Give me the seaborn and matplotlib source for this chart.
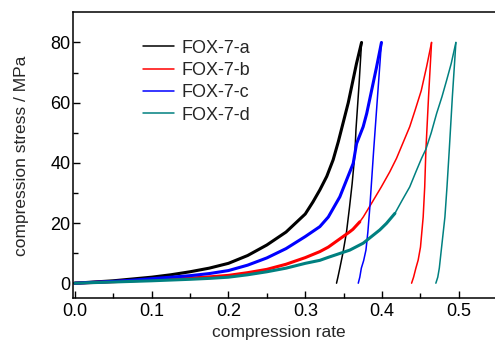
"""Compression stress vs compression rate for four FOX-7 samples."""
import numpy as np
import matplotlib
matplotlib.use('Agg')
import matplotlib.pyplot as plt
import seaborn as sns

# loading branch (noisy, drawn thick up to `thick_end`) and unloading branch
samples = ['FOX-7-a', 'FOX-7-b', 'FOX-7-c', 'FOX-7-d']
colors = ['#000000', '#ff0000', '#0000ff', '#008080']

load_a_x = [0.0, 0.025, 0.05, 0.075, 0.1, 0.125, 0.15, 0.175, 0.2, 0.225, 0.25, 0.275,
            0.3, 0.31, 0.319, 0.328, 0.3363, 0.343, 0.349, 0.356, 0.3667, 0.3733]
load_a_y = [0.0, 0.4, 0.8, 1.4, 2.0, 2.8, 3.8, 5.0, 6.6, 9.2, 12.7, 17.0,
            23.0, 27.0, 31.0, 35.5, 41.0, 47.0, 53.0, 60.0, 73.0, 80.0]
unload_a_x = [0.3407, 0.3425, 0.345, 0.349, 0.3537, 0.3575, 0.361, 0.3646, 0.366, 0.370, 0.3733]
unload_a_y = [0.0, 2.0, 5.0, 10.0, 17.0, 25.0, 33.0, 43.0, 51.0, 66.0, 80.0]

load_b_x = [0.0, 0.025, 0.05, 0.075, 0.1, 0.125, 0.15, 0.175, 0.2, 0.225, 0.25, 0.275,
            0.3, 0.319, 0.33, 0.358, 0.362, 0.371, 0.3755, 0.385, 0.399, 0.41, 0.4188,
            0.436, 0.443, 0.451, 0.458, 0.4644]
load_b_y = [0.0, 0.25, 0.5, 0.8, 1.1, 1.4, 1.7, 2.1, 2.6, 3.5, 4.6, 6.3,
            8.5, 10.5, 12.0, 17.1, 17.9, 20.4, 22.0, 26.0, 32.0, 37.0, 41.5,
            52.0, 57.5, 64.0, 72.0, 80.0]
unload_b_x = [0.4384, 0.441, 0.444, 0.447, 0.450, 0.4535, 0.4555, 0.457, 0.4605, 0.4644]
unload_b_y = [0.0, 2.0, 5.0, 7.7, 12.0, 22.0, 32.0, 44.0, 62.0, 80.0]

load_c_x = [0.0, 0.025, 0.05, 0.075, 0.1, 0.125, 0.15, 0.175, 0.2, 0.225, 0.25, 0.275,
            0.3, 0.319, 0.33, 0.345, 0.3624, 0.3668, 0.3754, 0.38, 0.3928, 0.3992]
load_c_y = [0.0, 0.3, 0.6, 1.0, 1.5, 2.0, 2.5, 3.2, 4.2, 6.0, 8.4, 11.5,
            15.5, 18.8, 22.0, 28.7, 39.8, 46.4, 52.0, 56.4, 71.8, 80.0]
unload_c_x = [0.369, 0.371, 0.373, 0.376, 0.379, 0.3815, 0.384, 0.389, 0.3935, 0.3992]
unload_c_y = [0.0, 2.0, 5.0, 7.5, 11.0, 17.0, 25.0, 44.0, 60.0, 80.0]

load_d_x = [0.0, 0.025, 0.05, 0.075, 0.1, 0.125, 0.15, 0.175, 0.2, 0.225, 0.25, 0.275,
            0.3, 0.319, 0.33, 0.358, 0.3754, 0.397, 0.4058, 0.4167, 0.426, 0.436, 0.444,
            0.4514, 0.457, 0.464, 0.471, 0.478, 0.484, 0.490, 0.4961]
load_d_y = [0.0, 0.2, 0.4, 0.6, 0.8, 1.05, 1.3, 1.6, 2.0, 2.8, 3.8, 5.0,
            6.6, 7.6, 8.6, 11.0, 13.3, 17.7, 19.9, 23.2, 27.5, 32.0, 37.0,
            41.5, 44.5, 50.0, 56.4, 62.0, 67.4, 73.0, 80.0]
unload_d_x = [0.470, 0.4725, 0.4745, 0.4775, 0.4818, 0.4845, 0.4874, 0.4915, 0.4961]
unload_d_y = [0.0, 2.0, 5.0, 12.0, 22.0, 32.0, 44.0, 62.0, 80.0]

thick_end = [0.3733, 0.371, 0.3992, 0.4167]

loads = [(load_a_x, load_a_y), (load_b_x, load_b_y),
         (load_c_x, load_c_y), (load_d_x, load_d_y)]
unloads = [(unload_a_x, unload_a_y), (unload_b_x, unload_b_y),
           (unload_c_x, unload_c_y), (unload_d_x, unload_d_y)]

sns.set_style('ticks')
plt.rcParams['font.family'] = ['Liberation Sans', 'DejaVu Sans']
plt.rcParams['font.size'] = 12

fig = plt.figure(figsize=(4.95, 3.44), dpi=100)
ax = fig.add_axes([0.148, 0.133, 0.852, 0.831])

for name, col, (lx, ly), (ux, uy), te in zip(samples, colors, loads, unloads, thick_end):
    lx = np.array(lx)
    ly = np.array(ly)
    thick = lx <= te + 1e-9
    sns.lineplot(x=lx[thick], y=ly[thick], color=col, lw=2.2, sort=False,
                 estimator=None, ax=ax)
    if (~thick).any():
        idx = np.where(~thick)[0]
        idx = np.r_[idx[0] - 1, idx]
        sns.lineplot(x=lx[idx], y=ly[idx], color=col, lw=1.1, sort=False,
                     estimator=None, ax=ax)
    sns.lineplot(x=ux, y=uy, color=col, lw=1.1, sort=False, estimator=None,
                 label=name, ax=ax)

ax.set_xlim(-0.002, 0.547)
ax.set_ylim(-5, 90)
ax.set_xticks([0.0, 0.1, 0.2, 0.3, 0.4, 0.5])
ax.set_xticks(np.arange(0.05, 0.55, 0.1), minor=True)
ax.set_yticks([0, 20, 40, 60, 80])
ax.set_yticks([10, 30, 50, 70], minor=True)
ax.tick_params(which='both', direction='in', width=1.0, labelsize=13, colors='black')
ax.tick_params(which='major', length=5)
ax.tick_params(which='minor', length=3.5)
ax.tick_params(axis='y', pad=2)
ax.spines['right'].set_visible(False)
for s in ['left', 'top', 'bottom']:
    ax.spines[s].set_linewidth(1.1)
    ax.spines[s].set_color('black')

ax.set_xlabel('compression rate', fontsize=12.5)
ax.set_ylabel('compression stress / MPa', fontsize=12.5)
ax.xaxis.set_label_coords(0.488, -0.093)
ax.yaxis.set_label_coords(-0.106, 0.5)

ax.legend(loc='upper left', bbox_to_anchor=(0.165, 0.905), frameon=False,
          fontsize=13, handlelength=1.7, handletextpad=0.45,
          labelspacing=0.3, borderpad=0, borderaxespad=0)

fig.savefig('out.png', dpi=100)
